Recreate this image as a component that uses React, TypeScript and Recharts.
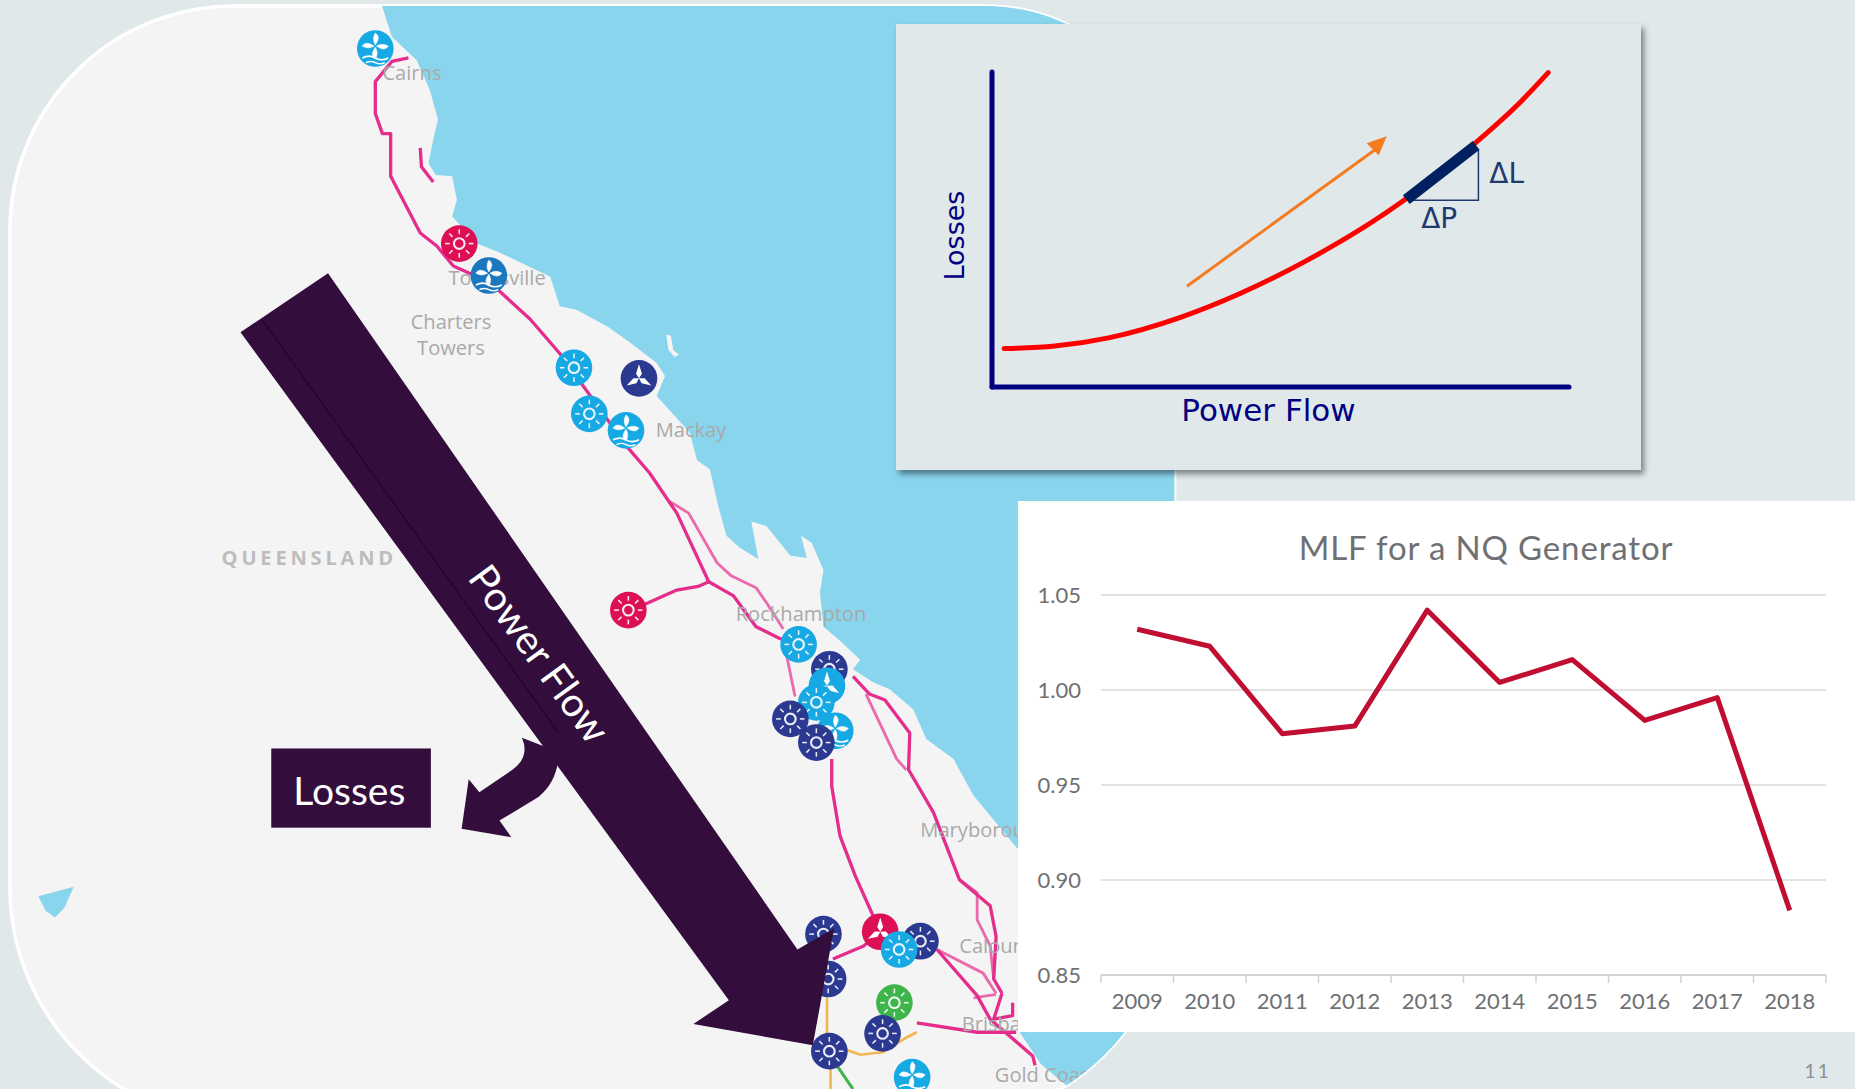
import { Label, Line, LineChart, CartesianGrid, ReferenceDot, XAxis, YAxis } from "recharts";

// MLF chart
const years = ["2009", "2010", "2011", "2012", "2013", "2014", "2015", "2016", "2017", "2018"];
const mlfValues = [1.032, 1.023, 0.977, 0.981, 1.042, 1.004, 1.016, 0.984, 0.996, 0.884];
const mlfTicks = [0.85, 0.9, 0.95, 1.0, 1.05];

// Losses / power flow sketch
const powerLevels = [2.1, 10.9, 20.2, 32.8, 42.9, 54.6, 71.4, 83.6, 91.6, 96.4];
const lossLevels = [12.2, 13, 15.6, 22.2, 29.6, 40.2, 59.3, 77.2, 90.5, 99.8];
const slopePower = [71.8, 83.9];
const slopeLoss = [59.5, 76.7];
const trianglePower = [72.5, 84.3, 84.3];
const triangleLoss = [59.3, 59.3, 75.5];
const trendPower = [33.8, 66.5];
const trendLoss = [32, 75.5];

const mlfData = years.map((year, i) => ({ year, mlf: mlfValues[i] }));
const zipXY = (xs: number[], ys: number[]) => xs.map((x, i) => ({ x, y: ys[i] }));

const NAVY = "#000080";
const BG = "#E0E8EA";
const GREY = "#6E7073";
const FONT = "Lato, 'Open Sans', sans-serif";

const PLOT_W = 725;
const bandW = PLOT_W / years.length;

function YearTick({ x, y, payload, index }: any) {
  const axisY = y - 8;
  return (
    <g>
      <line x1={x - bandW / 2} x2={x - bandW / 2} y1={axisY} y2={axisY + 8} stroke="#D0D0D0" strokeWidth={1.5} />
      {index === years.length - 1 && (
        <line x1={x + bandW / 2} x2={x + bandW / 2} y1={axisY} y2={axisY + 8} stroke="#D0D0D0" strokeWidth={1.5} />
      )}
      <text x={x} y={axisY + 34} textAnchor="middle" fontSize={22} fontFamily={FONT} fill={GREY}>
        {payload.value}
      </text>
    </g>
  );
}

function TrendHead({ cx, cy, index }: any) {
  if (index !== 1) return null;
  return <path d={`M${cx + 11} ${cy - 13} L${cx - 9} ${cy - 6} L${cx + 3} ${cy + 6} Z`} fill="#F47B20" />;
}

// map background, drawn in the 1568x921 space of the slide
const landEdge = "M208 5 H833 A160 160 0 0 1 993 165 V750 A200 200 0 0 1 793 950 H208 A200 200 0 0 1 8 750 V195 A190 190 0 0 1 198 5 Z";
const sea =
  "M321 0 L331 31 L352 51 L363 76 L370 101 L366 118 L362 138 L368 148 L382 149 L386 169 L382 183 L403 206 L423 214 L465 234 L473 259 L487 262 L513 276 L533 290 L555 307 L562 318 L555 335 L583 366 L589 389 L600 397 L607 428 L614 453 L625 463 L641 473 L635 441 L648 445 L668 470 L682 472 L677 453 L686 459 L696 482 L693 501 L696 530 L710 542 L727 558 L721 566 L738 577 L752 583 L772 600 L783 625 L806 642 L823 673 L862 720 L862 873 L880 900 L905 921 L1000 921 V0 Z";

const pinkLines = [
  "M345 49 L331 52 L317 69 L317 96 L323 113 L330 113 L330 149 L355 197 L369 208 L383 225 L414 239 L448 270 L473 299 L499 335 L530 378 L549 400 L572 434 L599 492 L620 504 L639 530 L659 540 L675 545",
  "M355 125 L356 141 L366 154",
  "M545 511 L572 499 L590 496 L599 492",
  "M703 642 L703 665 L710 707 L723 741 L744 788",
  "M721 572 L735 587 L748 592 L769 620 L768 651 L789 687 L811 744 L837 766 L842 792 L840 828 L847 840",
  "M792 803 L826 842 L837 862 L873 893 L875 901",
  "M704 811 L730 800 L744 788",
  "M775 865 L826 873 L859 873",
  "M847 840 L840 862 L856 859 L856 848",
];
const lightPinkLines = [
  "M566 424 L582 434 L606 476 L618 487 L639 497 L648 510 L662 532",
  "M665 555 L672 589",
  "M732 587 L758 642 L766 651",
  "M811 744 L826 755 L826 778 L837 800 L840 828",
  "M792 803 L831 823 L842 840",
  "M823 844 L842 841",
];
const orangeLines = ["M699 843 L699 889", "M716 888 L727 892 L746 890 L767 877 L775 873", "M702 900 L702 921"];

const mapLabels = [
  { text: "Cairns", x: 348, y: 68 },
  { text: "Townsville", x: 420, y: 241 },
  { text: "Charters", x: 381, y: 278 },
  { text: "Towers", x: 381, y: 300 },
  { text: "Mackay", x: 584, y: 370 },
  { text: "Rockhampton", x: 677, y: 525 },
  { text: "Maryborough", x: 832, y: 708 },
  { text: "Caloundra", x: 852, y: 806 },
  { text: "Brisbane", x: 848, y: 872 },
  { text: "Gold Coast", x: 884, y: 915 },
];

const LIGHT = "#16A9E3";
const DARK = "#2B3990";
const RED = "#DD0F55";
const icons = [
  { x: 317, y: 41, c: LIGHT, k: "water" },
  { x: 388, y: 206, c: RED, k: "sun" },
  { x: 413, y: 233, c: "#1B78BE", k: "water" },
  { x: 485, y: 311, c: LIGHT, k: "sun" },
  { x: 540, y: 320, c: DARK, k: "wind" },
  { x: 498, y: 350, c: LIGHT, k: "sun" },
  { x: 529, y: 364, c: LIGHT, k: "water" },
  { x: 531, y: 516, c: RED, k: "sun" },
  { x: 675, y: 545, c: LIGHT, k: "sun" },
  { x: 701, y: 566, c: DARK, k: "sun" },
  { x: 706, y: 618, c: LIGHT, k: "water" },
  { x: 699, y: 580, c: LIGHT, k: "wind" },
  { x: 690, y: 594, c: LIGHT, k: "sun" },
  { x: 668, y: 608, c: DARK, k: "sun" },
  { x: 690, y: 628, c: DARK, k: "sun" },
  { x: 696, y: 790, c: DARK, k: "sun" },
  { x: 700, y: 828, c: DARK, k: "sun" },
  { x: 744, y: 788, c: RED, k: "wind" },
  { x: 778, y: 796, c: DARK, k: "sun" },
  { x: 760, y: 803, c: LIGHT, k: "sun" },
  { x: 756, y: 848, c: "#3DB54A", k: "sun" },
  { x: 746, y: 874, c: DARK, k: "sun" },
  { x: 701, y: 889, c: DARK, k: "sun" },
  { x: 771, y: 911, c: LIGHT, k: "water" },
];

function MapIcon({ x, y, c, k }: { x: number; y: number; c: string; k: string }) {
  const rays = [0, 45, 90, 135, 180, 225, 270, 315];
  return (
    <g transform={`translate(${x} ${y})`}>
      <circle r={15.5} fill={c} />
      {k === "sun" && (
        <g stroke="#fff" fill="none" opacity={0.9}>
          <circle r={4.5} strokeWidth={1.8} />
          {rays.map((a) => (
            <line key={a} x1={0} x2={0} y1={-8} y2={-12} strokeWidth={1.3} transform={`rotate(${a})`} />
          ))}
        </g>
      )}
      {k === "wind" &&
        [0, 120, 240].map((a) => (
          <path key={a} d="M0 0 L-2.5 -4 L0 -12 L2.5 -4 Z" fill="#fff" transform={`rotate(${a})`} />
        ))}
      {k === "water" && (
        <g fill="#fff" stroke="#fff">
          {[0, 90, 180, 270].map((a) => (
            <path key={a} d="M0 -1 Q5 -8 0 -11 Q-3 -6 0 -1 Z" strokeWidth={0.5} transform={`translate(0 -2) rotate(${a})`} />
          ))}
          <path d="M-11 8 Q-5 5 0 8 T11 8" fill="none" strokeWidth={1.4} />
          <path d="M-8 12 Q-4 10 0 12 T8 12" fill="none" strokeWidth={1.2} />
        </g>
      )}
    </g>
  );
}

function SlideBackground() {
  return (
    <svg width={1855} height={1089} viewBox="0 0 1568 921" style={{ position: "absolute", left: 0, top: 0 }}>
      <defs>
        <clipPath id="mapClip">
          <path d={landEdge} />
        </clipPath>
      </defs>
      <path d={landEdge} fill="#F4F4F4" stroke="#fff" strokeWidth={3} />
      <g clipPath="url(#mapClip)">
        <path d={sea} fill="#8AD5EE" />
        <path d="M563 283 L567 284 L569 296 L574 300 L570 302 L565 296 Z" fill="#F4F4F4" />
        <path d="M32 758 L62 750 L54 768 L46 776 L38 770 Z" fill="#8AD5EE" />
        {lightPinkLines.map((d, i) => (
          <path key={i} d={d} fill="none" stroke="#EA6AAB" strokeWidth={2.4} strokeLinejoin="round" />
        ))}
        {pinkLines.map((d, i) => (
          <path key={i} d={d} fill="none" stroke="#E42D8C" strokeWidth={2.8} strokeLinejoin="round" />
        ))}
        {orangeLines.map((d, i) => (
          <path key={i} d={d} fill="none" stroke="#F2B550" strokeWidth={2.2} />
        ))}
        <path d="M708 902 L721 921" fill="none" stroke="#3DB54A" strokeWidth={2.6} />
        {mapLabels.map((l) => (
          <text key={l.text} x={l.x} y={l.y} textAnchor="middle" fontSize={17} fontFamily="'Open Sans', sans-serif" fill="#A9A9A9">
            {l.text}
          </text>
        ))}
        <text x={187} y={478} fontSize={17} fontWeight={700} letterSpacing={3.2} fontFamily="'Open Sans', sans-serif" fill="#BDBDBD">
          QUEENSLAND
        </text>
        {icons.map((ic, i) => (
          <MapIcon key={i} {...ic} />
        ))}
      </g>
      <g fill="#330E3C">
        <path d="M203 281 L277 231 L674 803 L705 785 L687 884 L586 866 L616 846 Z" />
        <path d="M390 701 L432 708 L422 694 L455 674 Q472 660 472 636 L441 624 Q448 640 433 651 L405 670 L396 659 Z" />
        <rect x={229} y={633} width={135} height={67} />
      </g>
      <path d="M221 270 L472 620" stroke="#1E0624" strokeWidth={1} />
      <text x={295} y={681} textAnchor="middle" fontSize={33} fontFamily={FONT} fill="#fff">
        Losses
      </text>
      <text
        x={453}
        y={555}
        textAnchor="middle"
        dominantBaseline="middle"
        fontSize={34}
        fontFamily={FONT}
        fill="#fff"
        transform="rotate(54 453 555)"
      >
        Power Flow
      </text>
      <text x={1537} y={912} textAnchor="middle" fontSize={16} fontFamily={FONT} fill="#8A8F92" letterSpacing={2}>
        11
      </text>
    </svg>
  );
}

function LossesSketch() {
  return (
    <div
      style={{
        position: "absolute",
        left: 896,
        top: 24,
        width: 745,
        height: 446,
        background: BG,
        boxShadow: "3px 4px 6px rgba(0,0,0,.45)",
      }}
    >
      <LineChart width={745} height={446} margin={{ top: 48, right: 72, bottom: 0, left: 0 }}>
        <XAxis
          type="number"
          dataKey="x"
          domain={[0, 100]}
          height={83}
          allowDuplicatedCategory={false}
          tick={false}
          tickLine={false}
          axisLine={{ stroke: NAVY, strokeWidth: 5, strokeLinecap: "round" }}
        >
          <Label value="Power Flow" position="insideTop" offset={12} dx={-12} fontSize={31} fontFamily="'DejaVu Sans', sans-serif" fill={NAVY} />
        </XAxis>
        <YAxis
          type="number"
          dataKey="y"
          domain={[0, 100]}
          width={96}
          tick={false}
          tickLine={false}
          axisLine={{ stroke: NAVY, strokeWidth: 5, strokeLinecap: "round" }}
        >
          <Label value="Losses" angle={-90} position="insideLeft" offset={58} dy={51} fontSize={27} fontFamily="'DejaVu Sans', sans-serif" fill={NAVY} />
        </YAxis>
        <Line
          data={zipXY(powerLevels, lossLevels)}
          dataKey="y"
          type="monotone"
          stroke="#FF0000"
          strokeWidth={5}
          strokeLinecap="round"
          dot={false}
          isAnimationActive={false}
        />
        <Line
          data={zipXY(trianglePower, triangleLoss)}
          dataKey="y"
          stroke="#1F3A6E"
          strokeWidth={1.5}
          dot={false}
          isAnimationActive={false}
        />
        <Line
          data={zipXY(slopePower, slopeLoss)}
          dataKey="y"
          stroke="#002060"
          strokeWidth={11}
          dot={false}
          isAnimationActive={false}
        />
        <Line
          data={zipXY(trendPower, trendLoss)}
          dataKey="y"
          stroke="#F47B20"
          strokeWidth={3}
          dot={<TrendHead />}
          isAnimationActive={false}
        />
        <ReferenceDot x={89.2} y={68} r={0} fill="none" stroke="none">
          <Label value="ΔL" fontSize={28} fontFamily="'DejaVu Sans', sans-serif" fill="#1F3A6E" />
        </ReferenceDot>
        <ReferenceDot x={77.5} y={53.5} r={0} fill="none" stroke="none">
          <Label value="ΔP" fontSize={28} fontFamily="'DejaVu Sans', sans-serif" fill="#1F3A6E" />
        </ReferenceDot>
      </LineChart>
    </div>
  );
}

function MlfChart() {
  return (
    <div style={{ position: "absolute", left: 1018, top: 501, width: 837, height: 531, background: "#fff" }}>
      <div
        style={{
          position: "absolute",
          left: 0,
          top: 26,
          width: 936,
          textAlign: "center",
          fontFamily: FONT,
          fontSize: 33,
          letterSpacing: 0.85,
          color: GREY,
        }}
      >
        MLF for a NQ Generator
      </div>
      <LineChart width={837} height={531} data={mlfData} margin={{ top: 94, right: 29, bottom: 0, left: 0 }}>
        <CartesianGrid vertical={false} stroke="#D9D9D9" strokeWidth={1.5} />
        <XAxis
          dataKey="year"
          scale="band"
          height={57}
          interval={0}
          axisLine={{ stroke: "#D0D0D0", strokeWidth: 1.5 }}
          tickLine={false}
          tick={<YearTick />}
        />
        <YAxis
          domain={[0.85, 1.05]}
          ticks={mlfTicks}
          width={83}
          axisLine={false}
          tickLine={false}
          tickSize={0}
          tickMargin={20}
          tickFormatter={(v: number) => v.toFixed(2)}
          tick={{ fontSize: 22, fontFamily: FONT, fill: GREY }}
        />
        <Line
          dataKey="mlf"
          type="linear"
          stroke="#C00D32"
          strokeWidth={5}
          dot={false}
          strokeLinejoin="round"
          isAnimationActive={false}
        />
      </LineChart>
    </div>
  );
}

export default function App() {
  return (
    <div style={{ position: "absolute", left: 0, top: 0, width: 1855, height: 1089, background: BG, overflow: "hidden" }}>
      <SlideBackground />
      <LossesSketch />
      <MlfChart />
    </div>
  );
}
